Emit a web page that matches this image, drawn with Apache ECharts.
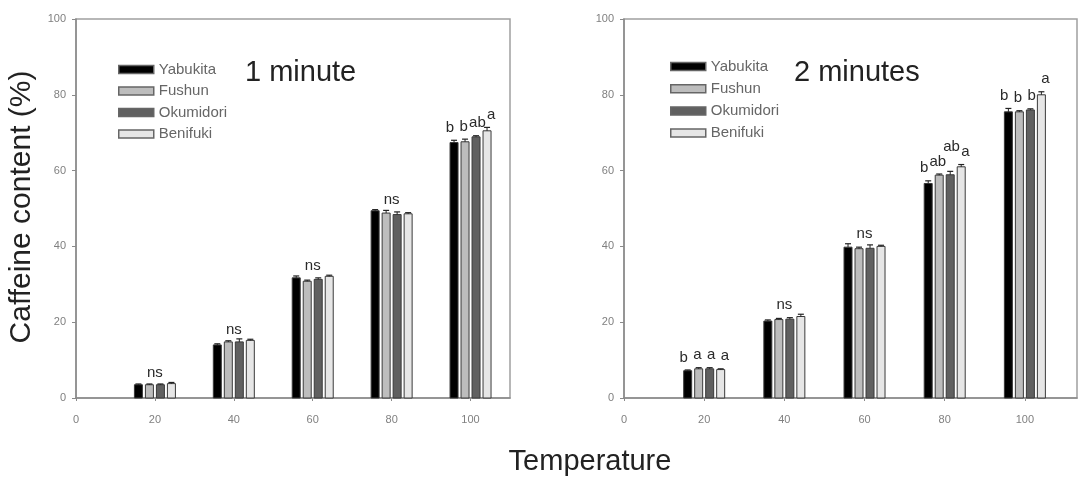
<!DOCTYPE html>
<html>
<head>
<meta charset="utf-8">
<script src="https://cdn.jsdelivr.net/npm/echarts@6/dist/echarts.min.js"></script>
<style>
  html, body { margin: 0; padding: 0; background: #fff; }
  #chart { width: 1081px; height: 482px; }
</style>
</head>
<body>
<div id="chart"></div>
<script>
// temperatures (x) and tea varieties
const temps = [20, 40, 60, 80, 100];
const varieties = ['Yabukita', 'Fushun', 'Okumidori', 'Benifuki'];
const colors = ['#000000', '#bdbdbd', '#606060', '#e6e6e6'];

// 1 minute: one row per variety, one value per temperature
const oneMinValues = [
    [3.5, 14.0, 31.7, 49.4, 67.4],
    [3.5, 14.8, 30.8, 48.8, 67.6],
    [3.5, 14.8, 31.3, 48.4, 68.9],
    [3.8, 15.2, 32.1, 48.6, 70.5]
];
const oneMinErrors = [
    [0.2, 0.3, 0.5, 0.3, 0.6],
    [0.2, 0.3, 0.3, 0.7, 0.7],
    [0.2, 0.8, 0.4, 0.7, 0.3],
    [0.3, 0.3, 0.3, 0.3, 0.9]
];
const oneMinLetters = [['ns'], ['ns'], ['ns'], ['ns'], ['b', 'b', 'ab', 'a']];

// 2 minutes
const twoMinValues = [
    [7.2, 20.3, 39.8, 56.6, 75.5],
    [7.7, 20.7, 39.4, 58.8, 75.5],
    [7.7, 20.8, 39.5, 58.9, 76.0],
    [7.5, 21.5, 40.0, 61.0, 80.0]
];
const twoMinErrors = [
    [0.2, 0.3, 0.9, 0.7, 0.9],
    [0.3, 0.3, 0.4, 0.3, 0.3],
    [0.3, 0.4, 0.9, 0.9, 0.3],
    [0.2, 0.6, 0.3, 0.6, 0.8]
];
const twoMinLetters = [['b', 'a', 'a', 'a'], ['ns'], ['ns'], ['b', 'ab', 'ab', 'a'], ['b', 'b', 'b', 'a']];

const panels = [
    { values: oneMinValues, errors: oneMinErrors, letters: oneMinLetters },
    { values: twoMinValues, errors: twoMinErrors, letters: twoMinLetters }
];

const SLOT = 11;
const BAR_W = 8;
const LETTER_SIZE = 15;
const GLYPH_H = 14;
const LETTER_SPREAD = 1.25;
const sans = "'Liberation Sans', Arial, sans-serif";

function barSeries(p, i) {
    const vals = panels[p].values[i];
    const errs = panels[p].errors[i];
    return {
        type: 'custom',
        name: varieties[i],
        xAxisIndex: p,
        yAxisIndex: p,
        itemStyle: { color: colors[i], borderColor: '#5a5a5a', borderWidth: 1.5 },
        encode: { x: 0, y: 1 },
        data: temps.map((t, j) => [t, vals[j], errs[j]]),
        renderItem: function (params, api) {
            const t = api.value(0), v = api.value(1), e = api.value(2);
            const base = api.coord([t, 0]);
            const top = api.coord([t, v]);
            const et = api.coord([t, v + e]);
            const cx = base[0] + (i - 1.5) * SLOT;
            return {
                type: 'group',
                children: [
                    {
                        type: 'rect',
                        shape: { x: cx - BAR_W / 2, y: top[1], width: BAR_W, height: base[1] - top[1] },
                        style: { fill: colors[i], stroke: '#3a3a3a', lineWidth: 1 }
                    },
                    {
                        type: 'line',
                        shape: { x1: cx, y1: top[1], x2: cx, y2: et[1] },
                        style: { stroke: '#222', lineWidth: 1 }
                    },
                    {
                        type: 'line',
                        shape: { x1: cx - 3, y1: et[1], x2: cx + 3, y2: et[1] },
                        style: { stroke: '#222', lineWidth: 1.2 }
                    }
                ]
            };
        }
    };
}

// significance letters; a letter that would collide with a neighbour is lifted above it
function letterSeries(p) {
    const P = panels[p];
    return {
        type: 'custom',
        xAxisIndex: p,
        yAxisIndex: p,
        silent: true,
        clip: false,
        encode: { x: 0, y: 1 },
        data: temps.map(t => [t, 0]),
        renderItem: function (params, api) {
            const j = params.dataIndex;
            const t = api.value(0);
            const base = api.coord([t, 0]);
            const labels = P.letters[j];
            const style = { fontSize: LETTER_SIZE, fontFamily: sans, fill: '#2a2a2a', align: 'center', verticalAlign: 'bottom' };
            const children = [];
            if (labels.length === 1) {
                let hi = 0;
                for (let i = 0; i < varieties.length; i++) hi = Math.max(hi, P.values[i][j] + P.errors[i][j]);
                const y = api.coord([t, hi])[1];
                children.push({ type: 'text', style: Object.assign({ text: labels[0], x: base[0], y: y - 2 }, style) });
            } else {
                const boxes = [];
                labels.forEach((s, i) => {
                    const cx = base[0] + (i - 1.5) * SLOT * LETTER_SPREAD;
                    const w = s.length * LETTER_SIZE * 0.5;
                    let bottom = api.coord([t, P.values[i][j] + P.errors[i][j]])[1] - 8;
                    for (let guard = 0; guard < 10; guard++) {
                        let moved = false;
                        boxes.forEach(b => {
                            const xOver = cx - w / 2 < b.x2 && cx + w / 2 > b.x1;
                            const yOver = bottom > b.top && bottom - GLYPH_H < b.bottom;
                            if (xOver && yOver) { bottom = b.top - 1; moved = true; }
                        });
                        if (!moved) break;
                    }
                    boxes.push({ x1: cx - w / 2, x2: cx + w / 2, top: bottom - GLYPH_H, bottom: bottom });
                    children.push({ type: 'text', style: Object.assign({ text: s, x: cx, y: bottom + 3 }, style) });
                });
            }
            return { type: 'group', children: children };
        }
    };
}

function xAxisOf(p, max) {
    return {
        gridIndex: p, type: 'value', min: 0, max: max, interval: 20,
        axisLine: { onZero: false, lineStyle: { color: '#8a8a8a', width: 1.5 } },
        axisTick: { length: 3, lineStyle: { color: '#8a8a8a' } },
        axisLabel: { showMaxLabel: false, margin: 16, fontSize: 11, color: '#808080', fontFamily: sans },
        splitLine: { show: false }
    };
}
function yAxisOf(p) {
    return {
        gridIndex: p, type: 'value', min: 0, max: 100, interval: 20,
        axisLine: { show: true, lineStyle: { color: '#8a8a8a', width: 1.5 } },
        axisTick: { show: true, length: 4, lineStyle: { color: '#8a8a8a' } },
        axisLabel: { margin: 10, fontSize: 11, color: '#808080', fontFamily: sans },
        splitLine: { show: false }
    };
}
function legendOf(left, top, gap) {
    return {
        data: varieties, orient: 'vertical', left: left, top: top, padding: 0,
        icon: 'rect', itemWidth: 35, itemHeight: 8, itemGap: gap,
        selectedMode: false,
        itemStyle: { borderColor: '#666', borderWidth: 1.5 },
        textStyle: { fontSize: 15, color: '#666', fontFamily: sans }
    };
}

const chart = echarts.init(document.getElementById('chart'));
const option = {
    animation: false,
    backgroundColor: '#fff',
    title: [
        { text: '1 minute', left: 245, top: 58, padding: 0, textStyle: { fontSize: 29, fontWeight: 'normal', color: '#222', fontFamily: sans } },
        { text: '2 minutes', left: 794, top: 58, padding: 0, textStyle: { fontSize: 29, fontWeight: 'normal', color: '#222', fontFamily: sans } }
    ],
    legend: [legendOf(118, 62, 6.5), legendOf(670, 59, 7.2)],
    grid: [
        { left: 76, top: 19, width: 434, height: 379, show: true, borderColor: '#a0a0a0', borderWidth: 1.5 },
        { left: 624, top: 19, width: 453, height: 379, show: true, borderColor: '#a0a0a0', borderWidth: 1.5 }
    ],
    xAxis: [xAxisOf(0, 110), xAxisOf(1, 113)],
    yAxis: [yAxisOf(0), yAxisOf(1)],
    graphic: [
        {
            type: 'text', x: 22, y: 207, rotation: Math.PI / 2,
            style: { text: 'Caffeine content (%)', fontSize: 30, fontFamily: sans, fill: '#222', align: 'center', verticalAlign: 'middle' }
        },
        {
            type: 'text', x: 590, y: 462,
            style: { text: 'Temperature', fontSize: 29, fontFamily: sans, fill: '#222', align: 'center', verticalAlign: 'middle' }
        }
    ],
    series: [
        ...varieties.map((v, i) => barSeries(0, i)),
        ...varieties.map((v, i) => barSeries(1, i)),
        letterSeries(0),
        letterSeries(1)
    ]
};
chart.setOption(option);
window.addEventListener('resize', () => chart.resize());
</script>
</body>
</html>
